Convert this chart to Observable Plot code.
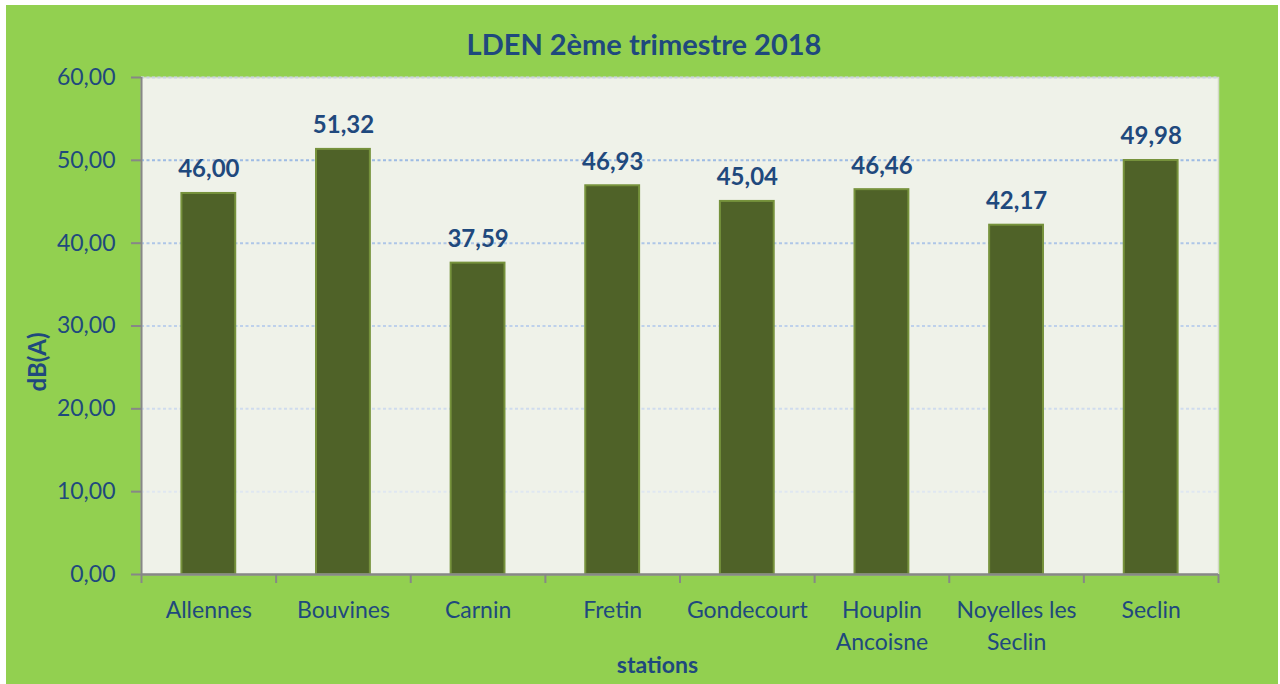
<!DOCTYPE html>
<html>
<head>
<meta charset="utf-8">
<script src="https://cdn.jsdelivr.net/npm/d3@7"></script>
<script src="https://cdn.jsdelivr.net/npm/@observablehq/plot@0.6"></script>
<style>
  body { margin: 0; background: #ffffff; }
  #chart { position: absolute; left: 6px; top: 5px; width: 1272px; height: 679px; background: #92D050; font-family: Lato, sans-serif; color: #1F497D; }
  #title { position: absolute; left: 4px; right: 0; top: 24px; font-size: 29px; line-height: 1; font-weight: bold; text-align: center; white-space: nowrap; }
  #chart svg { display: block; position: absolute; left: 0; top: 50px; }
</style>
</head>
<body>
<div id="chart"><div id="title"></div></div>
<script>
const chartTitle = "LDEN 2ème trimestre 2018";
const stations = ["Allennes", "Bouvines", "Carnin", "Fretin", "Gondecourt", "Houplin Ancoisne", "Noyelles les Seclin", "Seclin"];
const tickLabels = ["Allennes", "Bouvines", "Carnin", "Fretin", "Gondecourt", "Houplin\nAncoisne", "Noyelles les\nSeclin", "Seclin"];
const lden = [46.00, 51.32, 37.59, 46.93, 45.04, 46.46, 42.17, 49.98];
const yTicks = [0, 10, 20, 30, 40, 50, 60];
const yLabel = "dB(A)";
const xLabel = "stations";

document.getElementById("title").textContent = chartTitle;

const data = stations.map((s, i) => ({station: s, value: lden[i], label: tickLabels[i]}));
const fmt = v => v.toFixed(2).replace(".", ",");

const W = 1272, H = 629, mL = 135, mR = 60, mT = 22, mB = 110;
const step = (W - mL - mR) / stations.length;
const gray = "#878787";
const gridColor = v => v >= 60 ? "#c9d4e0" : d3.interpolateRgb("#dfe7f1", "#9dbbe4")((v - 10) / 40);

const chart = Plot.plot({
  width: W, height: H,
  marginLeft: mL, marginRight: mR, marginTop: mT, marginBottom: mB,
  style: {background: "transparent", color: "#1F497D", fontFamily: "Lato, sans-serif", fontSize: "23px", overflow: "visible"},
  x: {domain: stations, paddingInner: 0.6, paddingOuter: 0.3, round: false, axis: null},
  y: {domain: [0, 60], axis: null},
  color: {type: "identity"},
  marks: [
    Plot.frame({fill: "#EFF2E9", stroke: "#D2D9C6", strokeWidth: 1.5}),
    Plot.ruleY(yTicks.filter(v => v > 0), {y: d => d, stroke: d => gridColor(d), strokeWidth: 2, strokeDasharray: "3,2.5"}),
    Plot.barY(data, {x: "station", y: "value", fill: "#4F6228", stroke: "#76923C", strokeWidth: 2}),
    Plot.text(data, {x: "station", y: "value", text: d => fmt(d.value), dy: -16, lineAnchor: "bottom", fontWeight: "bold", fontSize: 24, fill: "#1F497D"}),
    Plot.ruleY([0], {stroke: gray, strokeWidth: 2.5}),
    Plot.ruleX([stations[0]], {x: d => d, dx: -step / 2, y1: 60, y2: 0, insetBottom: -9, stroke: gray, strokeWidth: 2}),
    Plot.ruleX(stations.slice(1), {x: d => d, dx: -step / 2, y1: 0, y2: 0, insetBottom: -9, stroke: gray, strokeWidth: 2}),
    Plot.ruleX([stations[stations.length - 1]], {x: d => d, dx: step / 2, y1: 0, y2: 0, insetBottom: -9, stroke: gray, strokeWidth: 2}),
    Plot.axisY({ticks: yTicks, tickSize: 10, tickPadding: 16, tickFormat: fmt, stroke: gray, strokeWidth: 2, fill: "#1F497D", fontSize: 23, label: null}),
    Plot.text(data, {x: "station", frameAnchor: "bottom", text: "label", textAnchor: "middle", lineAnchor: "top", dy: 20, lineHeight: 1.42, fontSize: 23, fill: "#1F497D"}),
    Plot.text([xLabel], {text: d => d, frameAnchor: "bottom", textAnchor: "middle", lineAnchor: "bottom", dx: -22.5, dy: 98, fontWeight: "bold", fontSize: 23, fill: "#1F497D"}),
    Plot.text([yLabel], {text: d => d, frameAnchor: "left", rotate: -90, textAnchor: "middle", lineAnchor: "middle", dx: -103, dy: 36, fontWeight: "bold", fontSize: 24, fill: "#1F497D"})
  ]
});
document.getElementById("chart").appendChild(chart);
</script>
</body>
</html>
